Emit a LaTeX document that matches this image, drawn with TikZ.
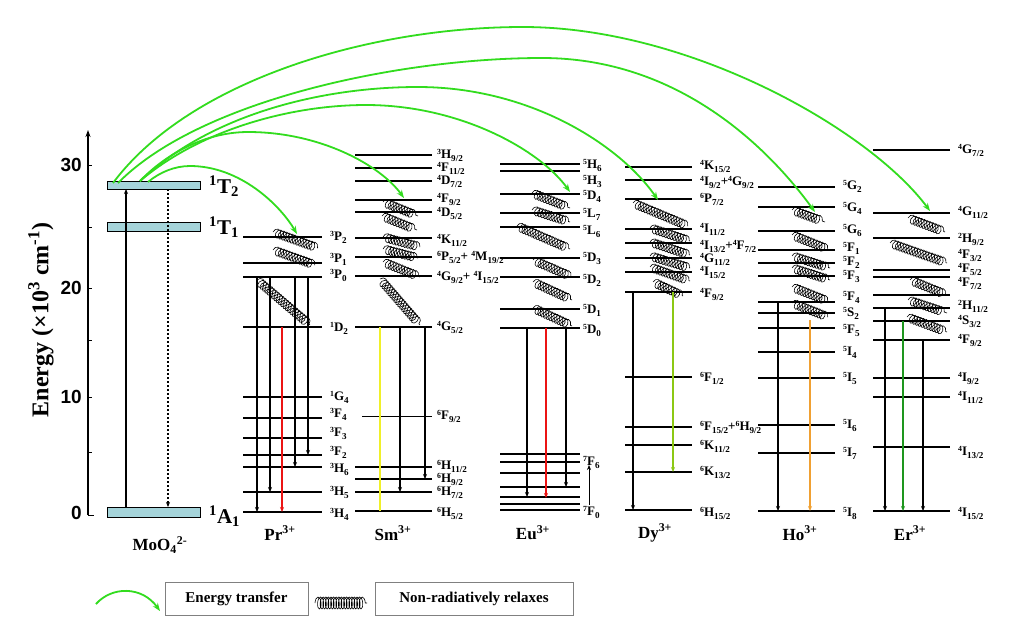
\documentclass[tikz,border=0pt]{standalone}
\usepackage{fontspec}
\usepackage{graphicx}
\setmainfont{Liberation Serif}
\newfontfamily\axisfont{Liberation Sans}
\usetikzlibrary{arrows.meta,decorations.pathmorphing}
\definecolor{etgreen}{RGB}{50,220,30}
\definecolor{boxblue}{RGB}{165,212,218}
\definecolor{emred}{RGB}{235,20,20}
\definecolor{emyellow}{RGB}{240,240,40}
\definecolor{emlime}{RGB}{140,200,20}
\definecolor{emorange}{RGB}{240,160,50}
\definecolor{emgreen}{RGB}{30,150,30}
\newcommand{\lv}[3]{\raisebox{0.36em}{\scalebox{0.6}{#1}}#2\raisebox{-0.18em}{\scalebox{0.7}{#3}}}
\newcommand{\levset}[3]{\foreach \yy in {#3} {\draw[lev] (#1,\yy) -- (#2,\yy);}}
\begin{document}
\begin{tikzpicture}[x=1pt,y=-1pt,
  lev/.style={line width=1.3pt},
  lab/.style={anchor=west,font=\bfseries\fontsize{13}{13}\selectfont,inner sep=0pt},
  ion/.style={font=\bfseries\fontsize{17}{17}\selectfont,inner sep=0pt},
  emi/.style={line width=1.2pt,-{Stealth[length=5pt,width=4pt]}},
  coilspring/.style={decorate,decoration={coil,aspect=0.75,segment length=3pt,amplitude=4.5pt},line width=0.6pt},
  et/.style={draw=etgreen,line width=1.8pt,-{Stealth[length=8pt,width=6pt]}},
  mobox/.style={draw=black,fill=boxblue,line width=1pt},
  tlab/.style={anchor=west,font=\bfseries\fontsize{21}{21}\selectfont,inner sep=0pt},
  legbox/.style={draw=gray,line width=0.6pt,font=\bfseries\fontsize{15}{15}\selectfont,inner xsep=6pt,minimum height=33pt}
]
\useasboundingbox (0,0) rectangle (1036,622);
\fill[white] (0,0) rectangle (1036,622);

% ---------- axis ----------
\draw[line width=1.2pt,-{Stealth[length=7pt,width=5pt]}] (88,515) -- (88,130);
\foreach \yy in {165,227,288,340,397,452} {\draw[line width=1pt] (88,\yy) -- (92,\yy);}
\draw[line width=1pt] (88,515) -- (94,515);
\node[anchor=east,font=\axisfont\bfseries\fontsize{19}{19}\selectfont,inner sep=0pt] (t30) at (82,165) {30};
\node[anchor=east,font=\axisfont\bfseries\fontsize{19}{19}\selectfont,inner sep=0pt] (t20) at (82,288) {20};
\node[anchor=east,font=\axisfont\bfseries\fontsize{19}{19}\selectfont,inner sep=0pt] (t10) at (82,397) {10};
\node[anchor=east,font=\axisfont\bfseries\fontsize{19}{19}\selectfont,inner sep=0pt] (t0) at (82,513) {0};
\node[rotate=90,font=\bfseries\fontsize{24}{24}\selectfont,inner sep=0pt] (elab) at (41,320) {Energy (\texttimes10\textsuperscript{3} cm\textsuperscript{-1})};

% ---------- MoO4 ----------
\draw[mobox] (107,181) rectangle (200,189);
\draw[mobox] (107,222) rectangle (200,231);
\draw[mobox] (107,507) rectangle (200,517);
\coordinate (T2b) at (126,189);
\coordinate (A1t) at (126,507);
\coordinate (T2d) at (168,189);
\coordinate (A1d) at (168,507);
\draw[emi] (A1t) -- (T2b);
\draw[emi,line width=1.8pt,dash pattern=on 2pt off 2pt] (T2d) -- (A1d);
\node[tlab] (lT2) at (209,186) {\textsuperscript{1}T\textsubscript{2}};
\node[tlab] (lT1) at (209,227) {\textsuperscript{1}T\textsubscript{1}};
\node[tlab] (lA1) at (209,516) {\textsuperscript{1}A\textsubscript{1}};
\node[ion] (imo) at (160,545) {MoO\textsubscript{4}\textsuperscript{2-}};

% ---------- Pr ----------
\levset{243}{322}{237,263,277,327,397,418,438,455,467,492,512}
\node[lab] (pr1) at (330,237) {\lv{3}{P}{2}};
\node[lab] (pr2) at (330,259) {\lv{3}{P}{1}};
\node[lab] (pr3) at (330,275) {\lv{3}{P}{0}};
\node[lab] (pr4) at (330,328) {\lv{1}{D}{2}};
\node[lab] (pr5) at (330,397) {\lv{1}{G}{4}};
\node[lab] (pr6) at (330,414) {\lv{3}{F}{4}};
\node[lab] (pr7) at (330,433) {\lv{3}{F}{3}};
\node[lab] (pr8) at (330,452) {\lv{3}{F}{2}};
\node[lab] (pr9) at (330,469) {\lv{3}{H}{6}};
\node[lab] (pr10) at (330,492) {\lv{3}{H}{5}};
\node[lab] (pr11) at (330,514) {\lv{3}{H}{4}};
\draw[coilspring] (273,232) -- (318,248);
\draw[coilspring] (273,250) -- (315,265);
\draw[coilspring] (257,280) -- (310,325);
\draw[emi] (257,277) -- (257,512);
\draw[emi] (270,277) -- (270,492);
\draw[emi,emred] (282,327) -- (282,512);
\draw[emi] (295,277) -- (295,467);
\draw[emi] (308,277) -- (308,455);
\node[ion] (ipr) at (280,533) {Pr\textsuperscript{3+}};

% ---------- Sm ----------
\levset{355}{432}{155,168,181,200,212,238,257,276,327,467,479,492,511}
\draw[lev,line width=1pt] (362,416) -- (432,416);
\node[lab] (sm1) at (437,155) {\lv{3}{H}{9/2}};
\node[lab] (sm2) at (437,168) {\lv{4}{F}{11/2}};
\node[lab] (sm3) at (437,181) {\lv{4}{D}{7/2}};
\node[lab] (sm4) at (437,199) {\lv{4}{F}{9/2}};
\node[lab] (sm5) at (437,213) {\lv{4}{D}{5/2}};
\node[lab] (sm6) at (437,240) {\lv{4}{K}{11/2}};
\node[lab] (sm7) at (437,257) {\lv{6}{P}{5/2}+ \lv{4}{M}{19/2}};
\node[lab] (sm8) at (437,277) {\lv{4}{G}{9/2}+ \lv{4}{I}{15/2}};
\node[lab] (sm9) at (437,327) {\lv{4}{G}{5/2}};
\node[lab] (sm10) at (437,416) {\lv{6}{F}{9/2}};
\node[lab] (sm11) at (437,466) {\lv{6}{H}{11/2}};
\node[lab] (sm12) at (437,479) {\lv{6}{H}{9/2}};
\node[lab] (sm13) at (437,492) {\lv{6}{H}{7/2}};
\node[lab] (sm14) at (437,513) {\lv{6}{H}{5/2}};
\draw[coilspring] (383,202) -- (418,216);
\draw[coilspring] (382,216) -- (417,230);
\draw[coilspring] (383,237) -- (420,247);
\draw[coilspring] (383,249) -- (418,258);
\draw[coilspring] (383,262) -- (420,277);
\draw[coilspring] (380,279) -- (420,325);
\draw[line width=1.2pt,emyellow] (380,327) -- (380,511);
\draw[emi] (400,327) -- (400,492);
\draw[emi] (425,327) -- (425,479);
\node[ion] (ism) at (393,533) {Sm\textsuperscript{3+}};

% ---------- Eu ----------
\levset{500}{580}{164,171,194,213,227,258,277,309,328,454,462,473,487,497,504,510}
\node[lab] (eu1) at (583,165) {\lv{5}{H}{6}};
\node[lab] (eu2) at (583,181) {\lv{5}{H}{3}};
\node[lab] (eu3) at (583,196) {\lv{5}{D}{4}};
\node[lab] (eu4) at (583,214) {\lv{5}{L}{7}};
\node[lab] (eu5) at (583,231) {\lv{5}{L}{6}};
\node[lab] (eu6) at (583,258) {\lv{5}{D}{3}};
\node[lab] (eu7) at (583,280) {\lv{5}{D}{2}};
\node[lab] (eu8) at (583,310) {\lv{5}{D}{1}};
\node[lab] (eu9) at (583,330) {\lv{5}{D}{0}};
\node[lab] (eu10) at (583,462) {\lv{7}{F}{6}};
\node[lab] (eu11) at (583,512) {\lv{7}{F}{0}};
\draw[coilspring] (532,193) -- (570,208);
\draw[coilspring] (532,210) -- (570,222);
\draw[coilspring] (517,226) -- (570,249);
\draw[coilspring] (533,260) -- (572,277);
\draw[coilspring] (533,282) -- (572,300);
\draw[coilspring] (533,308) -- (572,326);
\draw[emi] (527,328) -- (527,497);
\draw[emi,emred] (546,328) -- (546,498);
\draw[emi] (566,328) -- (566,487);
\draw[line width=0.8pt,-{Stealth[length=5pt,width=4pt]}] (589,505) -- (589,465);
\node[ion] (ieu) at (533,533) {Eu\textsuperscript{3+}};

% ---------- Dy ----------
\levset{625}{692}{167,180,199,229,243,258,272,292,377,427,445,472,510}
\node[lab] (dy1) at (700,166) {\lv{4}{K}{15/2}};
\node[lab] (dy2) at (700,182) {\lv{4}{I}{9/2}+\lv{4}{G}{9/2}};
\node[lab] (dy3) at (700,199) {\lv{6}{P}{7/2}};
\node[lab] (dy4) at (700,229) {\lv{4}{I}{11/2}};
\node[lab] (dy5) at (700,246) {\lv{4}{I}{13/2}+\lv{4}{F}{7/2}};
\node[lab] (dy6) at (700,259) {\lv{4}{G}{11/2}};
\node[lab] (dy7) at (700,272) {\lv{4}{I}{15/2}};
\node[lab] (dy8) at (700,294) {\lv{4}{F}{9/2}};
\node[lab] (dy9) at (700,378) {\lv{6}{F}{1/2}};
\node[lab] (dy10) at (700,427) {\lv{6}{F}{15/2}+\lv{6}{H}{9/2}};
\node[lab] (dy11) at (700,446) {\lv{6}{K}{11/2}};
\node[lab] (dy12) at (700,472) {\lv{6}{K}{13/2}};
\node[lab] (dy13) at (700,513) {\lv{6}{H}{15/2}};
\draw[coilspring] (633,203) -- (688,226);
\draw[coilspring] (650,228) -- (690,241);
\draw[coilspring] (650,242) -- (690,255);
\draw[coilspring] (650,256) -- (690,268);
\draw[coilspring] (650,267) -- (690,281);
\draw[coilspring] (653,282) -- (683,296);
\draw[emi] (633,292) -- (633,510);
\draw[emi,emlime] (673,292) -- (673,472);
\node[ion] (idy) at (655,533) {Dy\textsuperscript{3+}};

% ---------- Ho ----------
\levset{758}{835}{187,207,231,250,263,276,302,313,328,352,378,425,453,511}
\node[lab] (ho1) at (843,186) {\lv{5}{G}{2}};
\node[lab] (ho2) at (843,208) {\lv{5}{G}{4}};
\node[lab] (ho3) at (843,230) {\lv{5}{G}{6}};
\node[lab] (ho4) at (843,248) {\lv{5}{F}{1}};
\node[lab] (ho5) at (843,262) {\lv{5}{F}{2}};
\node[lab] (ho6) at (843,276) {\lv{5}{F}{3}};
\node[lab] (ho7) at (843,297) {\lv{5}{F}{4}};
\node[lab] (ho8) at (843,313) {\lv{5}{S}{2}};
\node[lab] (ho9) at (843,330) {\lv{5}{F}{5}};
\node[lab] (ho10) at (843,352) {\lv{5}{I}{4}};
\node[lab] (ho11) at (843,378) {\lv{5}{I}{5}};
\node[lab] (ho12) at (843,425) {\lv{5}{I}{6}};
\node[lab] (ho13) at (843,453) {\lv{5}{I}{7}};
\node[lab] (ho14) at (843,513) {\lv{5}{I}{8}};
\draw[coilspring] (792,210) -- (825,222);
\draw[coilspring] (792,235) -- (830,250);
\draw[coilspring] (792,256) -- (830,268);
\draw[coilspring] (792,268) -- (830,280);
\draw[coilspring] (792,287) -- (830,302);
\draw[coilspring] (792,303) -- (828,317);
\draw[emi] (778,302) -- (778,511);
\draw[emi,emorange] (810,320) -- (810,511);
\node[ion] (iho) at (800,533) {Ho\textsuperscript{3+}};

% ---------- Er ----------
\levset{873}{950}{150,213,238,270,277,295,308,321,340,378,397,447,511}
\node[lab] (er1) at (958,150) {\lv{4}{G}{7/2}};
\node[lab] (er2) at (958,212) {\lv{4}{G}{11/2}};
\node[lab] (er3) at (958,239) {\lv{2}{H}{9/2}};
\node[lab] (er4) at (958,255) {\lv{4}{F}{3/2}};
\node[lab] (er5) at (958,269) {\lv{4}{F}{5/2}};
\node[lab] (er6) at (958,283) {\lv{4}{F}{7/2}};
\node[lab] (er7) at (958,306) {\lv{2}{H}{11/2}};
\node[lab] (er8) at (958,321) {\lv{4}{S}{3/2}};
\node[lab] (er9) at (958,340) {\lv{4}{F}{9/2}};
\node[lab] (er10) at (958,378) {\lv{4}{I}{9/2}};
\node[lab] (er11) at (958,397) {\lv{4}{I}{11/2}};
\node[lab] (er12) at (958,452) {\lv{4}{I}{13/2}};
\node[lab] (er13) at (958,513) {\lv{4}{I}{15/2}};
\draw[coilspring] (908,218) -- (945,232);
\draw[coilspring] (890,243) -- (947,263);
\draw[coilspring] (910,280) -- (947,295);
\draw[coilspring] (908,300) -- (947,313);
\draw[coilspring] (907,317) -- (947,332);
\draw[emi] (885,308) -- (885,511);
\draw[emi,emgreen] (903,321) -- (903,511);
\draw[emi] (923,340) -- (923,511);
\node[ion] (ier) at (910,533) {Er\textsuperscript{3+}};

% ---------- energy transfer arcs ----------
\coordinate (sA) at (113,183);
\coordinate (sB) at (118,183);
\coordinate (sC) at (140,181);
\coordinate (sF) at (148,182);
\coordinate (tPr) at (297,234);
\coordinate (tSm) at (404,198);
\coordinate (tEu) at (570,192);
\coordinate (tDy) at (658,200);
\coordinate (tHo) at (815,212);
\coordinate (tEr) at (930,211);
\draw[et] (sA) .. controls (190,80) and (370,27) .. (523,27) .. controls (690,27) and (870,130) .. (tEr);
\draw[et] (sB) .. controls (200,100) and (400,58) .. (542,58) .. controls (680,58) and (770,150) .. (tHo);
\draw[et] (sC) .. controls (210,115) and (320,87) .. (418,87) .. controls (530,87) and (620,145) .. (tDy);
\draw[et] (sC) .. controls (200,130) and (290,105) .. (366,105) .. controls (460,105) and (540,150) .. (tEu);
\draw[et] (sC) .. controls (170,150) and (210,132) .. (248,132) .. controls (320,132) and (380,165) .. (tSm);
\draw[et] (sF) .. controls (160,172) and (175,166) .. (190,166) .. controls (240,166) and (280,205) .. (tPr);

% ---------- legend ----------
\coordinate (lg1) at (96,604);
\coordinate (lg2) at (160,611);
\draw[et] (lg1) .. controls (112,586) and (142,586) .. (lg2);
\node[legbox,minimum width=143pt] (leg1) at (236.5,598.5) {Energy transfer};
\draw[decorate,decoration={coil,aspect=0.4,segment length=2.6pt,amplitude=6pt},line width=0.6pt] (315,603) -- (367,603);
\node[legbox,minimum width=198pt] (leg2) at (474,598.5) {Non-radiatively relaxes};
\end{tikzpicture}
\end{document}
